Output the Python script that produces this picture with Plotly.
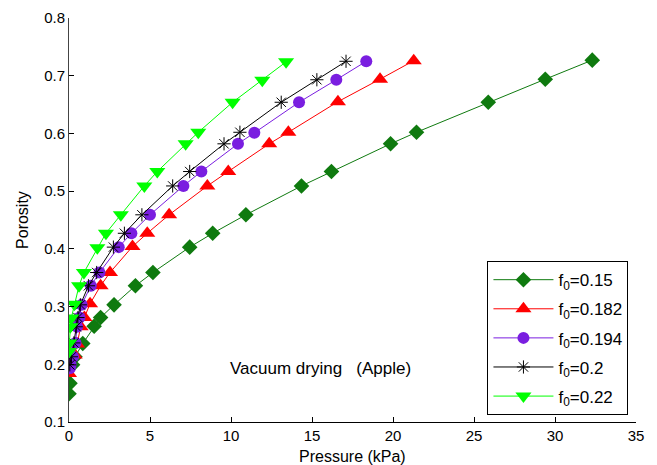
import plotly.graph_objects as go

# f0 = 0.15 (green diamonds)
x_015 = [0.0, 0.06, 0.22, 0.37, 0.85, 1.55, 1.95, 2.78, 4.1, 5.18, 7.45, 8.87, 10.92, 14.35, 16.2, 19.85, 21.45, 25.88, 29.4, 32.3]
y_015 = [0.149, 0.167, 0.199, 0.213, 0.236, 0.266, 0.281, 0.303, 0.336, 0.359, 0.403, 0.427, 0.459, 0.509, 0.534, 0.582, 0.602, 0.654, 0.694, 0.727]

# f0 = 0.182 (red triangles)
x_0182 = [0.0, 0.35, 0.5, 0.72, 0.95, 1.3, 1.95, 2.53, 3.92, 4.83, 6.18, 8.54, 9.83, 12.36, 13.54, 16.6, 19.2, 21.28]
y_0182 = [0.184, 0.216, 0.235, 0.265, 0.281, 0.305, 0.336, 0.359, 0.404, 0.427, 0.459, 0.509, 0.534, 0.582, 0.602, 0.655, 0.694, 0.726]

# f0 = 0.194 (purple circles)
x_0194 = [0.05, 0.1, 0.25, 0.4, 0.5, 0.65, 0.78, 1.35, 1.88, 3.07, 3.85, 5.0, 7.06, 8.17, 10.43, 11.44, 14.2, 16.5, 18.35]
y_0194 = [0.193, 0.199, 0.213, 0.237, 0.265, 0.281, 0.303, 0.336, 0.359, 0.403, 0.427, 0.459, 0.509, 0.534, 0.582, 0.601, 0.654, 0.693, 0.725]

# f0 = 0.2 (black stars)
x_02 = [0.05, 0.15, 0.3, 0.45, 0.55, 0.7, 1.2, 1.71, 2.74, 3.42, 4.5, 6.4, 7.45, 9.57, 10.55, 13.1, 15.3, 17.1]
y_02 = [0.199, 0.213, 0.237, 0.265, 0.281, 0.303, 0.336, 0.359, 0.403, 0.427, 0.459, 0.509, 0.534, 0.582, 0.602, 0.654, 0.693, 0.725]

# f0 = 0.22 (lime down-triangles)
x_022 = [0.0, 0.02, 0.08, 0.14, 0.33, 0.62, 0.92, 1.75, 2.28, 3.2, 4.65, 5.45, 7.2, 7.98, 10.1, 11.93, 13.4]
y_022 = [0.222, 0.237, 0.265, 0.28, 0.304, 0.336, 0.359, 0.402, 0.427, 0.459, 0.509, 0.534, 0.582, 0.602, 0.654, 0.692, 0.724]

series_names = ["f<sub>0</sub>=0.15", "f<sub>0</sub>=0.182", "f<sub>0</sub>=0.194", "f<sub>0</sub>=0.2", "f<sub>0</sub>=0.22"]
x_ticks = [0, 5, 10, 15, 20, 25, 30, 35]
y_ticks = [0.1, 0.2, 0.3, 0.4, 0.5, 0.6, 0.7, 0.8]
y_tick_labels = ["0.1", "0.2", "0.3", "0.4", "0.5", "0.6", "0.7", "0.8"]

FONT = "Liberation Sans, Arial, Helvetica, sans-serif"

fig = go.Figure()
styles = [
    (x_015, y_015, "#0f7a0f", dict(symbol="diamond", size=12)),
    (x_0182, y_0182, "#ff0000", dict(symbol="triangle-up", size=14)),
    (x_0194, y_0194, "#7a1ee0", dict(symbol="circle", size=12)),
    (x_02, y_02, "#000000", dict(symbol="asterisk-open", size=11, line=dict(width=1, color="#000000"))),
    (x_022, y_022, "#00ff00", dict(symbol="triangle-down", size=14)),
]
for i, ((xs, ys, col, mk), name) in enumerate(zip(styles, series_names)):
    m = dict(mk)
    m["color"] = col
    fig.add_trace(go.Scatter(x=xs, y=ys, mode="lines+markers", name=name, legendgroup=f"g{i}",
                             line=dict(color=col, width=1), marker=m))

fig.add_annotation(x=15.5, y=0.192, xref="x", yref="y",
                   text="Vacuum drying&nbsp;&nbsp;&nbsp;(Apple)",
                   showarrow=False, font=dict(family=FONT, size=17, color="#000"))
fig.add_annotation(x=0.5, y=-0.085, xref="paper", yref="paper", text="Pressure (kPa)",
                   showarrow=False, yanchor="middle", font=dict(family=FONT, size=16, color="#000"))
fig.add_annotation(x=-0.083, y=0.5, xref="paper", yref="paper", text="Porosity", textangle=-90,
                   showarrow=False, xanchor="center", font=dict(family=FONT, size=16, color="#000"))

fig.update_layout(
    width=657, height=465,
    margin=dict(l=69, r=21, t=18, b=43),
    paper_bgcolor="white", plot_bgcolor="white",
    font=dict(family=FONT, size=15, color="#000"),
    showlegend=True,
    legend=dict(x=0.738, y=0.017, xanchor="left", yanchor="bottom",
                bordercolor="#000", borderwidth=1, bgcolor="white",
                font=dict(family=FONT, size=17), tracegroupgap=4, itemwidth=60),
)
fig.update_xaxes(range=[0, 35], tickvals=x_ticks, ticks="inside", ticklen=5, tickcolor="#000",
                 showline=True, linecolor="#000", linewidth=1, showgrid=False, zeroline=False,
                 automargin=False, tickfont=dict(size=15))
fig.update_yaxes(range=[0.1, 0.8], tickvals=y_ticks, ticktext=y_tick_labels, ticks="inside", ticklen=5,
                 tickcolor="#000", showline=True, linecolor="#444", linewidth=1, showgrid=False,
                 zeroline=False, automargin=False, tickfont=dict(size=15))

fig.write_html("out.html", config={"displayModeBar": False},
               post_script="document.body.style.margin='0';")
